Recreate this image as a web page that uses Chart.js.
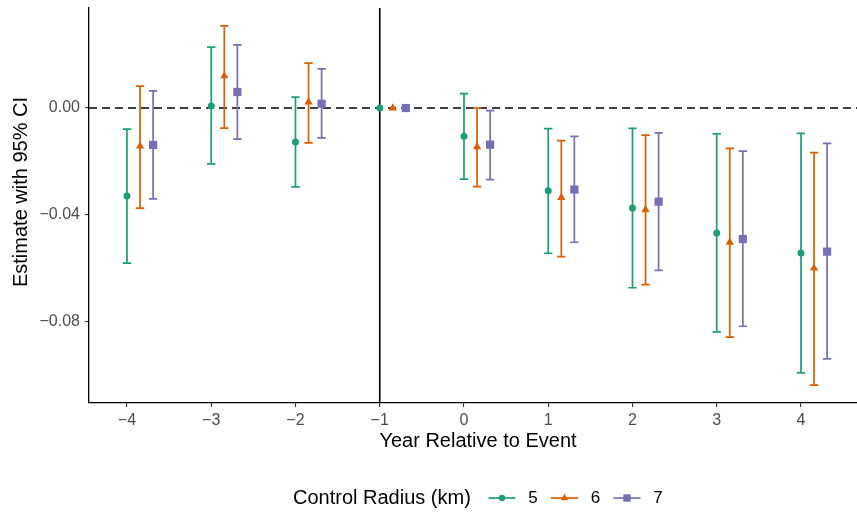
<!DOCTYPE html>
<html>
<head>
<meta charset="utf-8">
<script src="https://cdn.jsdelivr.net/npm/chart.js@4/dist/chart.umd.min.js"></script>
<style>
  html, body { margin: 0; padding: 0; background: #fff; overflow: hidden; }
  #wrap { width: 857px; height: 515px; }
</style>
</head>
<body>
<div id="wrap"><canvas id="es"></canvas></div>
<script>
// ---- data ----
const years = [-4, -3, -2, -1, 0, 1, 2, 3, 4]
const radii = ['5', '6', '7']
const yTicks = [0, -0.04, -0.08]

const est5 = [-0.0329, 0.0008, -0.0127, 0, -0.0106, -0.0309, -0.0374, -0.0467, -0.0542]
const lo5  = [-0.0580, -0.0209, -0.0295, 0, -0.0266, -0.0543, -0.0672, -0.0837, -0.0990]
const hi5  = [-0.0079, 0.0228, 0.0041, 0, 0.0054, -0.0077, -0.0076, -0.0097, -0.0095]

const est6 = [-0.0142, 0.0120, 0.0022, 0, -0.0145, -0.0335, -0.0381, -0.0502, -0.0599]
const lo6  = [-0.0374, -0.0075, -0.0130, 0, -0.0294, -0.0556, -0.0660, -0.0857, -0.1036]
const hi6  = [0.0082, 0.0307, 0.0168, 0, 0.0000, -0.0122, -0.0101, -0.0151, -0.0167]

const est7 = [-0.0138, 0.0060, 0.0016, 0, -0.0137, -0.0305, -0.0350, -0.0490, -0.0537]
const lo7  = [-0.0340, -0.0116, -0.0112, 0, -0.0268, -0.0502, -0.0607, -0.0816, -0.0938]
const hi7  = [0.0064, 0.0236, 0.0146, 0, -0.0010, -0.0106, -0.0093, -0.0161, -0.0132]

// ---- look ----
const colors = ['#1B9E77', '#D95F02', '#7570B3']
const shapes = ['circle', 'triangle', 'rect']
const radiusPx = [3.5, 4.8, 5.8]
const dodge = [0, 0.155, 0.31]
const FONT = "'Liberation Sans', Arial, sans-serif"

function minus(s) { return String(s).replace('-', '\u2212') }

const series = [
  { est: est5, lo: lo5, hi: hi5 },
  { est: est6, lo: lo6, hi: hi6 },
  { est: est7, lo: lo7, hi: hi7 },
]

const datasets = series.map((s, i) => ({
  label: radii[i],
  data: years.map((yr, j) => ({ x: yr + dodge[i], y: s.est[j], lo: s.lo[j], hi: s.hi[j] })),
  backgroundColor: colors[i],
  borderColor: colors[i],
  borderWidth: 0,
  pointStyle: shapes[i],
  pointRadius: radiusPx[i],
  pointHoverRadius: radiusPx[i],
}))

// reference lines + error bars, drawn under the points
const underlay = {
  id: 'underlay',
  beforeDatasetsDraw(chart) {
    const { ctx, chartArea, scales } = chart
    const x = scales.x, y = scales.y
    ctx.save()

    // dashed zero line
    ctx.strokeStyle = '#000'
    ctx.lineWidth = 1.7
    ctx.setLineDash([8, 5])
    ctx.beginPath()
    ctx.moveTo(chartArea.left, y.getPixelForValue(0))
    ctx.lineTo(chartArea.right, y.getPixelForValue(0))
    ctx.stroke()
    ctx.setLineDash([])

    // event line at -1
    ctx.lineWidth = 1.6
    ctx.beginPath()
    ctx.moveTo(x.getPixelForValue(-1), chartArea.top)
    ctx.lineTo(x.getPixelForValue(-1), chartArea.bottom)
    ctx.stroke()

    // error bars
    chart.data.datasets.forEach((ds, i) => {
      ctx.strokeStyle = colors[i]
      ctx.lineWidth = 1.7
      ds.data.forEach(p => {
        if (p.lo === p.hi) return
        const px = x.getPixelForValue(p.x)
        const pl = y.getPixelForValue(p.lo)
        const ph = y.getPixelForValue(p.hi)
        ctx.beginPath()
        ctx.moveTo(px, pl); ctx.lineTo(px, ph)
        ctx.moveTo(px - 4.2, pl); ctx.lineTo(px + 4.2, pl)
        ctx.moveTo(px - 4.2, ph); ctx.lineTo(px + 4.2, ph)
        ctx.stroke()
      })
    })
    ctx.restore()
  },
}

// axis titles and the ggplot-like bottom legend
const titles = {
  id: 'titles',
  afterDraw(chart) {
    const { ctx } = chart
    ctx.save()
    ctx.fillStyle = '#000'
    ctx.font = '20px ' + FONT
    ctx.textAlign = 'center'
    ctx.textBaseline = 'middle'
    ctx.fillText('Year Relative to Event', 478, 441)

    ctx.save()
    ctx.translate(27, 192)
    ctx.rotate(-Math.PI / 2)
    ctx.textBaseline = 'alphabetic'
    ctx.fillText('Estimate with 95% CI', 0, 0)
    ctx.restore()

    // legend
    const ly = 498
    ctx.textAlign = 'left'
    ctx.fillText('Control Radius (km)', 293, ly)
    ctx.font = '17px ' + FONT
    ctx.textAlign = 'center'
    radii.forEach((r, i) => {
      const cx = 502 + i * 62.5
      ctx.strokeStyle = colors[i]
      ctx.lineWidth = 1.7
      ctx.beginPath()
      ctx.moveTo(cx - 13.5, ly); ctx.lineTo(cx + 13.5, ly)
      ctx.stroke()
      ctx.fillStyle = colors[i]
      Chart.helpers.drawPoint(ctx, { pointStyle: shapes[i], radius: radiusPx[i] * 0.9, borderWidth: 0 }, cx, ly)
      ctx.fillStyle = '#000'
      ctx.fillText(r, cx + 31, ly)
    })
    ctx.restore()
  },
}

// ggplot panel sits flush: drop Chart.js's label overhang padding
function noPad(s) {
  s.paddingTop = 0; s.paddingBottom = 0; s.paddingLeft = 0; s.paddingRight = 0
}

new Chart(document.getElementById('es'), {
  type: 'scatter',
  data: { datasets },
  options: {
    responsive: true,
    maintainAspectRatio: false,
    animation: false,
    layout: { autoPadding: false, padding: { top: 8, right: 0, left: 0, bottom: 0 } },
    plugins: { legend: { display: false }, tooltip: { enabled: false } },
    scales: {
      x: {
        type: 'linear',
        min: -4.451,
        max: 4.665,
        afterBuildTicks: (s) => { s.ticks = years.map(v => ({ value: v })) },
        afterFit: (s) => { s.height = 112; noPad(s) },
        grid: { drawOnChartArea: false, drawTicks: true, tickLength: 4, color: '#333', lineWidth: 1.1 },
        border: { display: true, color: '#000', width: 1.3 },
        ticks: { color: '#4D4D4D', font: { size: 16, family: FONT }, padding: 4, maxRotation: 0, callback: v => minus(v) },
      },
      y: {
        min: -0.1103,
        max: 0.0374,
        afterBuildTicks: (s) => { s.ticks = yTicks.map(v => ({ value: v })) },
        afterFit: (s) => { s.width = 89; noPad(s) },
        grid: { drawOnChartArea: false, drawTicks: true, tickLength: 4, color: '#333', lineWidth: 1.1 },
        border: { display: true, color: '#000', width: 1.3 },
        ticks: { color: '#4D4D4D', font: { size: 16, family: FONT }, padding: 5, callback: v => minus(v.toFixed(2)) },
      },
    },
  },
  plugins: [underlay, titles],
})
</script>
</body>
</html>
